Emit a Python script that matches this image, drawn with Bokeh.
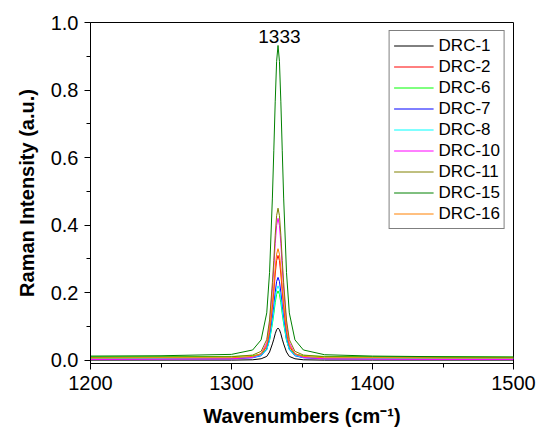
from bokeh.plotting import figure
from bokeh.models import Range1d, FixedTicker, Legend, LegendItem, Label, PrintfTickFormatter
from bokeh.embed import file_html
from bokeh.resources import INLINE

wavenumbers = [1200, 1250, 1300, 1315, 1321, 1325, 1327, 1329, 1330, 1331, 1332, 1333,
               1334, 1335, 1336, 1337, 1339, 1341, 1345, 1351, 1366, 1400, 1450, 1500]

drc_1 = [0.000, 0.000, 0.000, 0.001, 0.004, 0.011, 0.024, 0.048, 0.062, 0.078, 0.090, 0.095,
         0.090, 0.078, 0.062, 0.048, 0.024, 0.011, 0.004, 0.001, 0.000, 0.000, 0.000, 0.000]
drc_2 = [0.004, 0.005, 0.005, 0.009, 0.016, 0.041, 0.081, 0.157, 0.203, 0.255, 0.295, 0.310,
         0.295, 0.255, 0.203, 0.157, 0.081, 0.041, 0.016, 0.009, 0.005, 0.005, 0.004, 0.004]
drc_6 = [0.010, 0.010, 0.011, 0.013, 0.018, 0.033, 0.059, 0.108, 0.137, 0.170, 0.195, 0.205,
         0.195, 0.170, 0.137, 0.108, 0.059, 0.033, 0.018, 0.013, 0.011, 0.010, 0.010, 0.009]
drc_7 = [0.003, 0.004, 0.004, 0.007, 0.013, 0.032, 0.064, 0.124, 0.160, 0.201, 0.233, 0.245,
         0.233, 0.201, 0.160, 0.124, 0.064, 0.032, 0.013, 0.007, 0.004, 0.004, 0.003, 0.003]
drc_8 = [0.005, 0.005, 0.006, 0.008, 0.014, 0.031, 0.059, 0.113, 0.145, 0.181, 0.209, 0.220,
         0.209, 0.181, 0.145, 0.113, 0.059, 0.031, 0.014, 0.008, 0.006, 0.005, 0.005, 0.005]
drc_10 = [0.002, 0.003, 0.004, 0.008, 0.019, 0.052, 0.107, 0.211, 0.274, 0.345, 0.399, 0.420,
          0.399, 0.345, 0.274, 0.211, 0.107, 0.052, 0.019, 0.008, 0.004, 0.003, 0.002, 0.002]
drc_11 = [0.008, 0.009, 0.010, 0.015, 0.026, 0.061, 0.119, 0.229, 0.295, 0.370, 0.428, 0.450,
          0.428, 0.370, 0.295, 0.229, 0.119, 0.061, 0.026, 0.015, 0.010, 0.009, 0.008, 0.008]
drc_15 = [0.012, 0.013, 0.017, 0.030, 0.060, 0.140, 0.260, 0.480, 0.620, 0.765, 0.885, 0.932,
          0.885, 0.765, 0.620, 0.480, 0.260, 0.140, 0.060, 0.030, 0.016, 0.012, 0.010, 0.009]
drc_16 = [0.006, 0.007, 0.007, 0.011, 0.019, 0.045, 0.087, 0.168, 0.217, 0.272, 0.314, 0.330,
          0.314, 0.272, 0.217, 0.168, 0.087, 0.045, 0.019, 0.011, 0.007, 0.007, 0.006, 0.006]

series_names = ["DRC-1", "DRC-2", "DRC-6", "DRC-7", "DRC-8", "DRC-10", "DRC-11", "DRC-15", "DRC-16"]
series_values = [drc_1, drc_2, drc_6, drc_7, drc_8, drc_10, drc_11, drc_15, drc_16]
series_colors = ["#000000", "#FF0000", "#00FF00", "#0000FF", "#00FFFF", "#FF00FF",
                 "#808000", "#008000", "#FF8000"]

x_ticks = [1200, 1300, 1400, 1500]
y_ticks = [0.0, 0.2, 0.4, 0.6, 0.8, 1.0]
peak_label = "1333"
x_title = "Wavenumbers (cm\u207b\u00b9)"
y_title = "Raman Intensity (a.u.)"

FONT = "Liberation Sans"

p = figure(width=540, height=430, output_backend="svg", toolbar_location=None,
           x_range=Range1d(1200, 1500), y_range=Range1d(-0.01, 1.0),
           min_border_left=90, min_border_right=27, min_border_top=22, min_border_bottom=67)
p.background_fill_color = "white"
p.border_fill_color = "white"
p.outline_line_color = "black"
p.outline_line_width = 1
p.xgrid.visible = False
p.ygrid.visible = False

items = []
for name, vals, col in zip(series_names, series_values, series_colors):
    r = p.line(wavenumbers, vals, line_color=col, line_width=1)
    items.append(LegendItem(label=name, renderers=[r]))

legend = Legend(items=items, location="top_right", margin=8, padding=4, spacing=0,
                label_height=21, glyph_height=21, glyph_width=40, label_standoff=5,
                label_text_font=FONT, label_text_font_size="17px", label_text_color="black",
                border_line_color="black", border_line_width=1,
                background_fill_color="white", background_fill_alpha=1.0)
p.add_layout(legend, "center")

p.add_layout(Label(x=1334, y=0.94, text=peak_label, text_align="center",
                   text_baseline="bottom", text_font=FONT, text_font_size="19px",
                   text_color="black"))

p.xaxis.ticker = FixedTicker(ticks=x_ticks, minor_ticks=[1250, 1350, 1450])
p.yaxis.ticker = FixedTicker(ticks=y_ticks, minor_ticks=[0.1, 0.3, 0.5, 0.7, 0.9])
p.yaxis.formatter = PrintfTickFormatter(format="%.1f")

for ax in (p.xaxis[0], p.yaxis[0]):
    ax.axis_line_color = "black"
    ax.axis_line_width = 1
    ax.major_tick_line_color = "black"
    ax.minor_tick_line_color = "black"
    ax.major_tick_in = 0
    ax.major_tick_out = 6
    ax.minor_tick_in = 0
    ax.minor_tick_out = 4
    ax.major_label_text_font = FONT
    ax.major_label_text_font_size = "20px"
    ax.major_label_text_color = "black"
    ax.axis_label_text_font = FONT
    ax.axis_label_text_font_style = "bold"
    ax.axis_label_text_font_size = "20px"
    ax.axis_label_text_color = "black"

p.xaxis.axis_label = x_title
p.yaxis.axis_label = y_title
p.xaxis.major_label_standoff = 6
p.yaxis.major_label_standoff = 6
p.xaxis.axis_label_standoff = 12
p.yaxis.axis_label_standoff = 10

open("out.html", "w").write(file_html(p, INLINE))
